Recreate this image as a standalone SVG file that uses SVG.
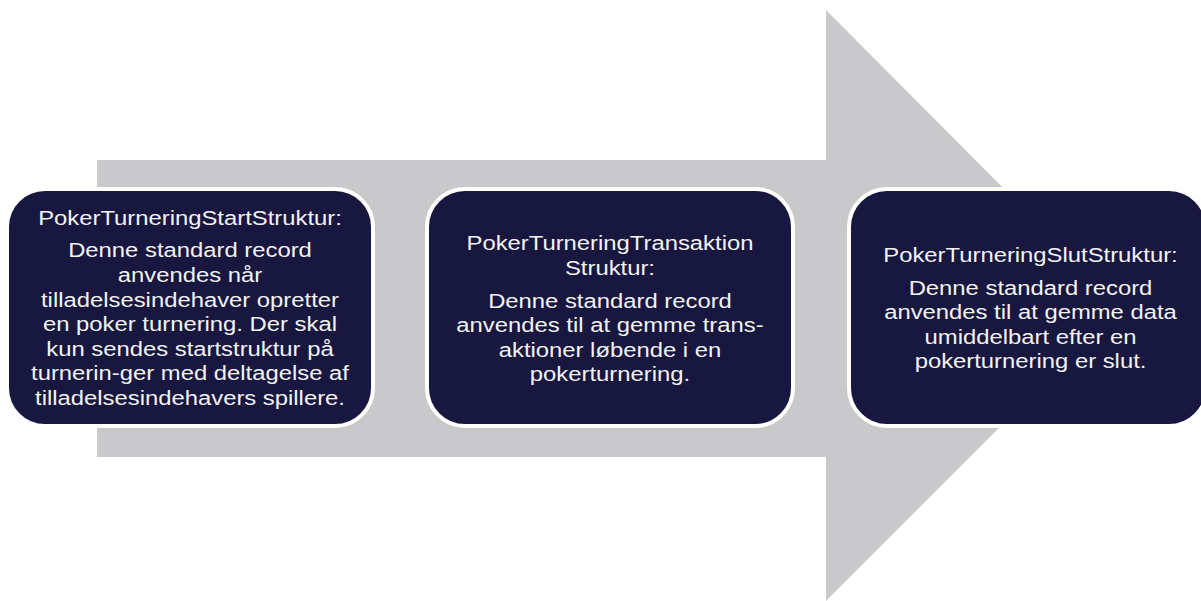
<svg xmlns="http://www.w3.org/2000/svg" width="1201" height="601" viewBox="0 0 1201 601">
<style>
.box{fill:#18173f;stroke:#ffffff;stroke-width:4}
.t{font-family:"Liberation Sans",Arial,sans-serif;font-size:21px;fill:#f2f2f2;text-anchor:middle}
</style>
<rect width="1201" height="601" fill="#ffffff"/>
<g id="connectors">
<polygon points="97,160 826,160 826,10 1121,306 826,601 826,457 97,457" fill="#c9c9cb"/>
</g>
<g id="node1">
<rect class="box" x="7" y="189" width="366" height="237" rx="38"/>
<g transform="matrix(1.135,0,0,1,-25.65,0)">
<text class="t" x="190" y="225">PokerTurneringStartStruktur:</text>
<text class="t" x="190" y="257.5">Denne standard record</text>
<text class="t" x="190" y="282">anvendes når</text>
<text class="t" x="190" y="306.6">tilladelsesindehaver opretter</text>
<text class="t" x="190" y="331.2">en poker turnering. Der skal</text>
<text class="t" x="190" y="355.8">kun sendes startstruktur på</text>
<text class="t" x="190" y="380.4">turnerin-ger med deltagelse af</text>
<text class="t" x="190" y="405">tilladelsesindehavers spillere.</text>
</g>
</g>
<g id="node2">
<rect class="box" x="427" y="189" width="366" height="237" rx="38"/>
<g transform="matrix(1.135,0,0,1,-82.35,0)">
<text class="t" x="610" y="250">PokerTurneringTransaktion</text>
<text class="t" x="610" y="275">Struktur:</text>
<text class="t" x="610" y="308">Denne standard record</text>
<text class="t" x="610" y="332.5">anvendes til at gemme trans-</text>
<text class="t" x="610" y="357">aktioner løbende i en</text>
<text class="t" x="610" y="381.5">pokerturnering.</text>
</g>
</g>
<g id="node3">
<rect class="box" x="849" y="189" width="358" height="237" rx="38"/>
<g transform="matrix(1.135,0,0,1,-139.1,0)">
<text class="t" x="1030.5" y="262">PokerTurneringSlutStruktur:</text>
<text class="t" x="1030.5" y="295">Denne standard record</text>
<text class="t" x="1030.5" y="319.5">anvendes til at gemme data</text>
<text class="t" x="1030.5" y="344">umiddelbart efter en</text>
<text class="t" x="1030.5" y="368.5">pokerturnering er slut.</text>
</g>
</g>
</svg>
